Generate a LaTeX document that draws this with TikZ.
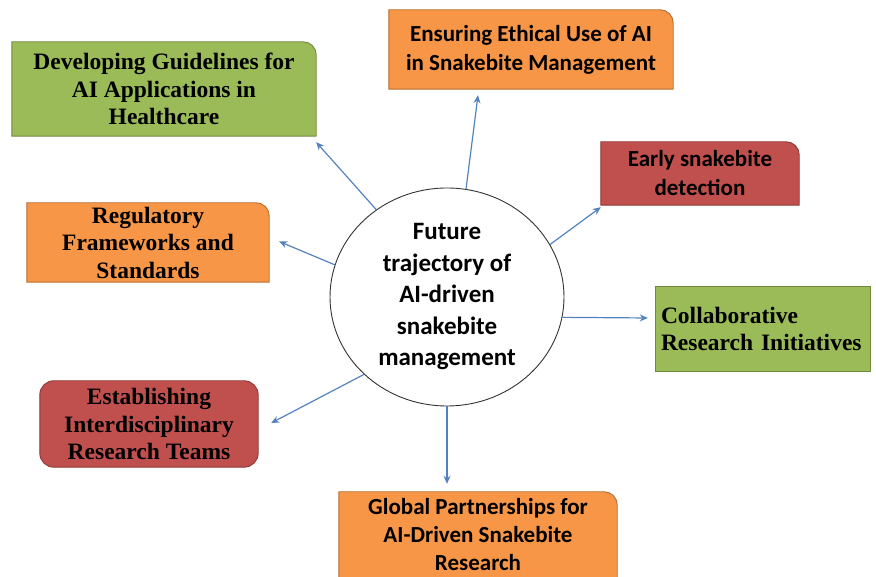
\documentclass[tikz,border=0pt]{standalone}
\usepackage{fontspec}
\setmainfont{Liberation Serif}
\newfontfamily\calib{Carlito}
\usetikzlibrary{arrows.meta,calc,backgrounds,shapes.geometric}
\definecolor{grn}{RGB}{155,187,89}
\definecolor{grnd}{RGB}{113,137,63}
\definecolor{org}{RGB}{247,150,70}
\definecolor{orgd}{RGB}{182,109,49}
\definecolor{rd}{RGB}{192,80,77}
\definecolor{rdd}{RGB}{140,56,54}
\definecolor{arr}{RGB}{84,130,190}
\tikzset{
  sbox/.style={inner sep=0pt, align=center, font=\fontsize{23.5}{27.5}\selectfont\bfseries},
  cbox/.style={inner sep=0pt, align=center, font=\fontsize{23}{29}\selectfont\calib\bfseries},
  conn/.style={draw=arr, line width=1.2pt, -{Stealth[length=8pt,width=7pt]}},
}
\newcommand\rtbox[3]{%
  \filldraw[fill=#2,draw=#3,line width=0.9pt] (#1.south west) -- (#1.north west) -- ([xshift=-13pt]#1.north east) arc[start angle=90,end angle=0,radius=13pt] -- (#1.south east) -- cycle;}
\begin{document}
\begin{tikzpicture}[x=1pt,y=1pt]
\useasboundingbox (0,0) rectangle (876,577);
\clip (0,0) rectangle (876,577);
% nodes
\node[sbox, minimum width=304pt, minimum height=94pt] (dev) at (164,488) {Developing Guidelines for\\AI Applications in\\Healthcare};
\node[cbox, minimum width=284pt, minimum height=79pt] (eth) at (531,527.5) {Ensuring Ethical Use of AI\\in Snakebite Management};
\node[cbox, minimum width=198pt, minimum height=63pt] (early) at (700,403.5) {Early snakebite\\detection};
\node[sbox, minimum width=242pt, minimum height=79pt] (reg) at (148,334.5) {Regulatory\\Frameworks and\\Standards};
\node[sbox, minimum width=214pt, minimum height=84pt, align=left, text width=204pt] (col) at (763,248) {Collaborative\\Research Initiatives};
\node[sbox, minimum width=218pt, minimum height=86pt] (est) at (149,153) {Establishing\\Interdisciplinary\\Research Teams};
\node[cbox, minimum width=278pt, minimum height=86pt, font=\fontsize{23}{28}\selectfont\calib\bfseries] (glob) at (478,42) {Global Partnerships for\\AI-Driven Snakebite\\Research};
\node[ellipse, draw=black!80, line width=0.9pt, fill=white, minimum width=234pt, minimum height=218pt, inner sep=0pt, align=center, font=\fontsize{25}{31.5}\selectfont\calib\bfseries] (c) at (447,280) {Future\\trajectory of\\AI-driven\\snakebite\\management};
% box shapes
\begin{scope}[on background layer]
\rtbox{dev}{grn}{grnd}
\rtbox{eth}{org}{orgd}
\rtbox{early}{rd}{rdd}
\rtbox{reg}{org}{orgd}
\filldraw[fill=grn,draw=grnd,line width=0.9pt] (col.south west) rectangle (col.north east);
\filldraw[fill=rd,draw=rdd,line width=0.9pt,rounded corners=14pt] (est.south west) rectangle (est.north east);
\rtbox{glob}{org}{orgd}
\end{scope}
% connectors
\draw[conn] (c.129) -- ($(dev.south east)+(0,-6)$);
\draw[conn] (c.80) -- ($(eth.south)+(-53,-6)$);
\draw[conn] (c.27) -- ($(early.south west)+(0,-2)$);
\draw[conn] (c.164) -- ($(reg.east)+(10,1)$);
\draw[conn] (c.-10) -- ($(col.west)+(-8,11)$);
\draw[conn] (c.223) -- ($(est.east)+(13,1)$);
\draw[conn] (c.270) -- ($(glob.north)+(-31,8)$);
\end{tikzpicture}
\end{document}
